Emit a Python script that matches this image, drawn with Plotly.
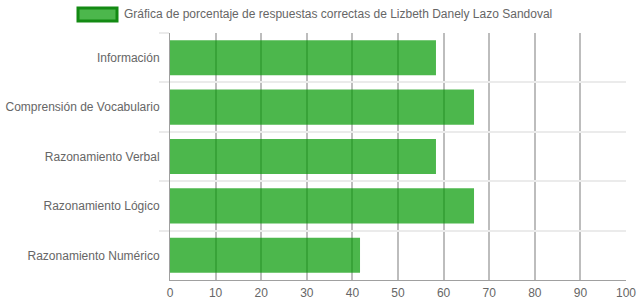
import plotly.graph_objects as go

categories = ["Información", "Comprensión de Vocabulario", "Razonamiento Verbal",
              "Razonamiento Lógico", "Razonamiento Numérico"]
values = [58.33, 66.67, 58.33, 66.67, 41.67]
series_name = "Gráfica de porcentaje de respuestas correctas de Lizbeth Danely Lazo Sandoval"
x_ticks = list(range(0, 101, 10))

bar_fill = "rgba(0,152,0,0.7)"
legend_border = "#138a13"
font = "Liberation Sans, Arial, sans-serif"

fig = go.Figure()
fig.add_trace(go.Bar(
    y=categories, x=values, orientation="h", name=series_name,
    marker=dict(color=bar_fill, line=dict(width=0)),
    showlegend=False,
))

fig.update_layout(
    width=639, height=308,
    margin=dict(l=170, r=13, t=33, b=28),
    paper_bgcolor="white", plot_bgcolor="white",
    bargap=0.29,
    font=dict(family=font, size=12, color="#666666"),
    xaxis=dict(
        range=[0, 100], tickvals=x_ticks, ticktext=[str(t) for t in x_ticks],
        showgrid=True, gridcolor="#bdbdbd", gridwidth=1.5,
        zeroline=False, showline=True, linecolor="#a0a0a0", linewidth=1,
        ticks="", ticklabelstandoff=2, tickfont=dict(size=12, color="#666666"),
        automargin=False, fixedrange=True,
    ),
    yaxis=dict(
        type="category", autorange="reversed",
        tickson="boundaries", showgrid=True, gridcolor="#ebebeb", gridwidth=1.5,
        ticks="outside", ticklen=10, tickcolor="#ebebeb", tickwidth=1.5,
        ticklabelstandoff=7,
        showline=True, linecolor="#a0a0a0", linewidth=1,
        tickfont=dict(size=12, color="#666666"),
        automargin=False, fixedrange=True,
    ),
)

# legend box + label (Chart.js-style legend)
fig.add_shape(type="rect", xref="paper", yref="paper",
              x0=(78 - 170) / 456, x1=(117 - 170) / 456,
              y0=(280 - 21) / 247, y1=(280 - 8) / 247,
              fillcolor=bar_fill, line=dict(color=legend_border, width=3))
fig.add_annotation(xref="paper", yref="paper",
                   x=(122 - 170) / 456, y=(280 - 14.5) / 247,
                   xanchor="left", yanchor="middle", showarrow=False,
                   text=series_name, font=dict(size=12, color="#666666", family=font))

fig.write_html("out.html")
